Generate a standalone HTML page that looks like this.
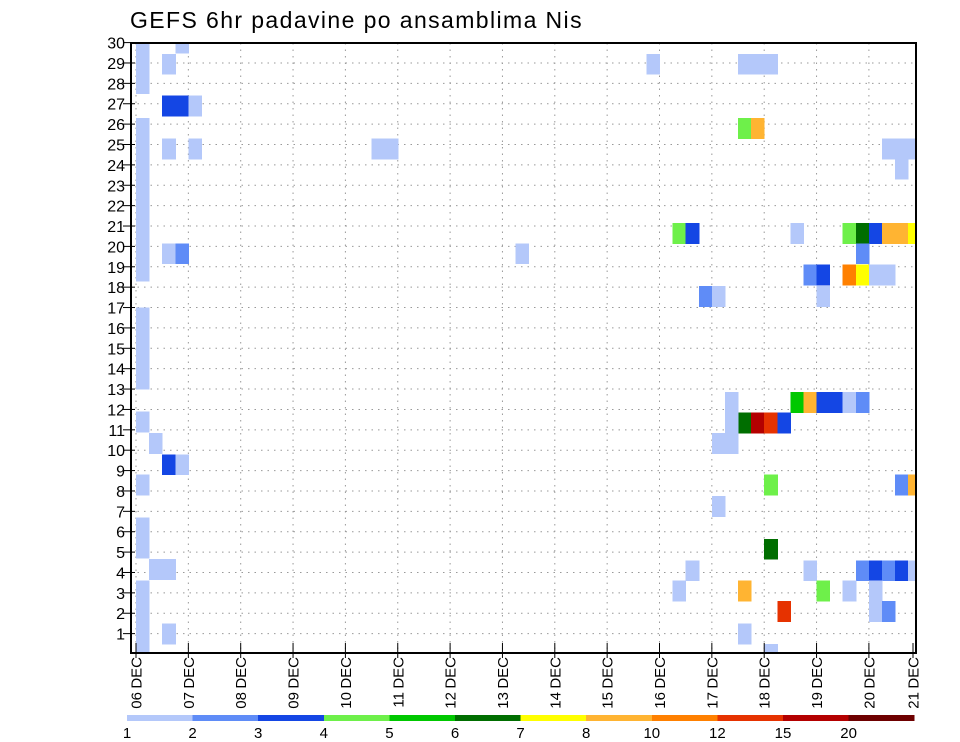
<!DOCTYPE html>
<html><head><meta charset="utf-8"><style>
html,body{margin:0;padding:0;background:#fff;}
svg{display:block;font-family:"Liberation Sans",sans-serif;}
</style></head><body>
<svg id="chart" width="960" height="742" viewBox="0 0 960 742" xmlns="http://www.w3.org/2000/svg">
<text x="130" y="28" font-size="23" letter-spacing="1.4" fill="#000">GEFS 6hr padavine po ansamblima Nis</text>
<g id="grid"></g>
<g id="cells" shape-rendering="crispEdges"></g>
<g id="axes"></g>
<g id="cbar" shape-rendering="crispEdges"></g>
</svg>
<script>
// 6-hour step index (from 06 DEC 00Z), upper edge in member units, colour class
const cellStep = [0,0,0, 0,0,0,0,0,0,0,0, 0,0,0,0, 0, 1, 2,3, 0, 0,0, 1,2, 0,0,0,0, 2,
 3, 2, 2,3,4, 2,4,18,19, 2,3,29, 39,
 46,47,48, 46,47, 57,58,59, 58,
 41,42,50,54,55,56,57,58,59,
 55, 51,52,54,55,56,57, 52, 43,44,
 50,51,52,53,54,55, 46,47,48,49, 45,45, 44,45,
 48,58,59, 44, 48,
 42,51,55,56,57,58,59,
 41,46,52,54,56,56, 49,57, 46, 48];
const cellTop = [30.5,29.5,28.5, 26.3,25.3,24.3,23.3,22.3,21.3,20.3,19.3, 17,16,15,14, 11.9, 10.85, 9.8,9.8, 8.8, 6.7,5.7, 4.65,4.65, 3.6,2.6,1.6,0.6, 1.5,
 30.5, 29.45, 27.4,27.4,27.4, 25.3,25.3,25.3,25.3, 20.15,20.15,20.15, 29.45,
 29.45,29.45,29.45, 26.3,26.3, 25.3,25.3,25.3, 24.3,
 21.15,21.15,21.15,21.15,21.15,21.15,21.15,21.15,21.15,
 20.15, 19.1,19.1,19.1,19.1,19.1,19.1, 18.05, 18.05,18.05,
 12.85,12.85,12.85,12.85,12.85,12.85, 11.85,11.85,11.85,11.85, 12.85,11.85, 10.85,10.85,
 8.8,8.8,8.8, 7.75, 5.65,
 4.6,4.6,4.6,4.6,4.6,4.6,4.6,
 3.6,3.6,3.6,3.6,3.6,2.6, 2.6,2.6, 1.5, 0.5];
const cellClass = [1,1,1, 1,1,1,1,1,1,1,1, 1,1,1,1, 1, 1, 3,1, 1, 1,1, 1,1, 1,1,1,1, 1,
 1, 1, 3,3,1, 1,1,1,1, 1,2,1, 1,
 1,1,1, 4,8, 1,1,1, 1,
 4,3,1,4,6,3,8,8,7,
 2, 2,3,9,7,1,1, 1, 2,1,
 5,8,3,3,1,2, 6,11,10,3, 1,1, 1,1,
 4,2,8, 1, 6,
 1,1,2,3,2,3,1,
 1,8,4,1,1,1, 10,2, 1, 1];
const dayLabels = ["06","07","08","09","10","11","12","13","14","15","16","17","18","19","20","21"];
const memberTicks = [1,2,3,4,5,6,7,8,9,10,11,12,13,14,15,16,17,18,19,20,21,22,23,24,25,26,27,28,29,30];
const levelLabels = ["1","2","3","4","5","6","7","8","10","12","15","20"];
const palette = ["#b4c8fa","#5f8cf7","#1446e4","#6ef04a","#00c800","#006e00","#ffff00","#ffb432","#ff8000","#e63200","#b40000","#6e0000"];

const NS="http://www.w3.org/2000/svg";
const PL=131, PR=916, PT=43, PB=653;
const DAY0=136, DAYW=52.35;
const xStep = k => DAY0 + k*DAYW/4;
const yMem = m => 654 - m*20.38;
function mk(tag, attrs, parent){const e=document.createElementNS(NS,tag);for(const a in attrs)e.setAttribute(a,attrs[a]);parent.appendChild(e);return e;}

const grid=document.getElementById('grid');
memberTicks.forEach(m=>{
  const l=mk('line',{x1:PL,x2:PR,y1:yMem(m),y2:yMem(m),stroke:'#999','stroke-width':1,'stroke-dasharray':'1.5 5'},grid);
  
  
});
dayLabels.forEach((d,i)=>{
  const x=DAY0+i*DAYW; if(x>PR) return;
  const l=mk('line',{x1:x,x2:x,y1:PT,y2:PB,stroke:'#999','stroke-width':1,'stroke-dasharray':'1.5 5'},grid);
  
  
});

const cells=document.getElementById('cells');
cellStep.forEach((k,i)=>{
  const x0=Math.max(PL,xStep(k)), x1=Math.min(PR,xStep(k+1));
  const y0=Math.max(PT,yMem(cellTop[i])), y1=Math.min(PB,yMem(cellTop[i]-1));
  const r=mk('rect',{x:x0,y:y0,width:x1-x0+0.5,height:y1-y0+0.5,fill:palette[cellClass[i]-1]},cells);
  
  
});

const axes=document.getElementById('axes');
const fr=mk('rect',{x:PL,y:PT,width:PR-PL,height:PB-PT,fill:'none',stroke:'#000','stroke-width':2},axes);


memberTicks.forEach(m=>{
  const y=yMem(m);
  const t=mk('line',{x1:PL-8,x2:PL+4,y1:y,y2:y,stroke:'#000','stroke-width':1},axes);
  
  
  const tx=mk('text',{x:PL-6,y:y+6,'font-size':16,'text-anchor':'end',fill:'#000'},axes);
  tx.textContent=m;
  
  
});
dayLabels.forEach((d,i)=>{
  const x=Math.min(DAY0+i*DAYW,PR-3);
  const t=mk('line',{x1:x,x2:x,y1:PB-10,y2:PB+5,stroke:'#000','stroke-width':1},axes);
  
  
  const a=mk('text',{transform:`translate(${x+5.5},657) rotate(-90)`,'font-size':15,'text-anchor':'end',fill:'#000'},axes);
  a.textContent='DEC';
  
  
  const b=mk('text',{transform:`translate(${x+5.5},692) rotate(-90)`,'font-size':15,'text-anchor':'end',fill:'#000'},axes);
  b.textContent=d;
  
  
});

const cbar=document.getElementById('cbar');
const CB0=127, CBW=65.6;
palette.forEach((c,i)=>{
  const r=mk('rect',{x:CB0+i*CBW,y:715,width:CBW+0.5,height:6,fill:c},cbar);
  
  
});
levelLabels.forEach((s,i)=>{
  const t=mk('text',{x:CB0+i*CBW,y:738,'font-size':15,'text-anchor':'middle',fill:'#000'},cbar);
  t.textContent=s;
  
  
});
</script>
</body></html>
